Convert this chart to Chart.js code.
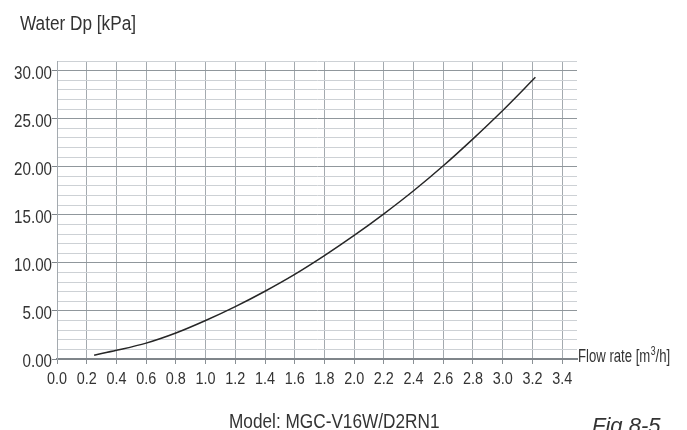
<!DOCTYPE html>
<html>
<head>
<meta charset="utf-8">
<script src="https://cdn.jsdelivr.net/npm/chart.js@4.4.1/dist/chart.umd.min.js"></script>
<style>
  html, body { margin: 0; padding: 0; background: #ffffff; }
  #wrap { position: relative; width: 687px; height: 430px; }
</style>
</head>
<body>
<div id="wrap"><canvas id="chart" width="687" height="430"></canvas></div>
<script>
// Pressure drop curve: flow rate [m3/h] against water-side pressure drop [kPa]
const flowRate     = [0.25, 0.4, 0.6, 0.8, 1.0, 1.2, 1.4, 1.6, 1.8, 2.0, 2.2, 2.4, 2.6, 2.8, 3.0, 3.22];
const pressureDrop = [0.4, 0.9, 1.65, 2.7, 4.0, 5.45, 7.05, 8.8, 10.75, 12.85, 15.1, 17.5, 20.1, 22.9, 25.85, 29.3];

const xTickValues = [0.0, 0.2, 0.4, 0.6, 0.8, 1.0, 1.2, 1.4, 1.6, 1.8, 2.0, 2.2, 2.4, 2.6, 2.8, 3.0, 3.2, 3.4];
const yLabelValues = [0, 5, 10, 15, 20, 25, 30];

const yTitle = 'Water Dp [kPa]';
const xTitleMain = 'Flow rate [m';
const xTitleSup = '3';
const xTitleTail = '/h]';
const modelText = 'Model: MGC-V16W/D2RN1';
const figText = 'Fig.8-5';

const SANS = "'Liberation Sans', Arial, sans-serif";
const TEXT = '#333333';

const points = flowRate.map((q, i) => ({ x: q, y: pressureDrop[i] }));

// Draws text horizontally condensed, anchored at (x, y) on the alphabetic baseline
function condensedText(ctx, str, x, y, size, squeeze, align) {
  ctx.save();
  ctx.font = size + 'px ' + SANS;
  const w = ctx.measureText(str).width * squeeze;
  let left = x;
  if (align === 'right') left = x - w;
  else if (align === 'center') left = x - w / 2;
  ctx.translate(left, y);
  ctx.scale(squeeze, 1);
  ctx.textAlign = 'left';
  ctx.textBaseline = 'alphabetic';
  ctx.fillText(str, 0, 0);
  ctx.restore();
}

// Tick labels placed through the chart's own scales, plus the free captions
const labels = {
  id: 'labels',
  afterDraw(chart) {
    const ctx = chart.ctx;
    const area = chart.chartArea;
    const xs = chart.scales.x;
    const ys = chart.scales.y;
    ctx.save();
    ctx.fillStyle = TEXT;

    xTickValues.forEach(v => {
      condensedText(ctx, v.toFixed(1), xs.getPixelForValue(v), area.bottom + 24.5, 16, 0.9, 'center');
    });
    yLabelValues.forEach(v => {
      condensedText(ctx, v.toFixed(2), 52, ys.getPixelForValue(v) + 8, 18.5, 0.82, 'right');
    });

    condensedText(ctx, yTitle, 20, 30, 20, 0.86, 'left');

    // axis caption at the end of the flow axis, with superscript 3
    ctx.save();
    ctx.translate(area.right + 1, area.bottom + 3);
    ctx.scale(0.73, 1);
    ctx.font = '18px ' + SANS;
    ctx.textAlign = 'left';
    ctx.textBaseline = 'alphabetic';
    let x = 0;
    ctx.fillText(xTitleMain, x, 0);
    x += ctx.measureText(xTitleMain).width + 0.5;
    ctx.font = '12px ' + SANS;
    ctx.fillText(xTitleSup, x, -7);
    x += ctx.measureText(xTitleSup).width;
    ctx.font = '18px ' + SANS;
    ctx.fillText(xTitleTail, x, 0);
    ctx.restore();

    condensedText(ctx, modelText, 229, 428, 21, 0.82, 'left');

    ctx.font = "italic 22px " + SANS;
    ctx.textAlign = 'left';
    ctx.textBaseline = 'alphabetic';
    ctx.fillText(figText, 592, 433);
    ctx.restore();
  }
};

new Chart(document.getElementById('chart'), {
  type: 'line',
  data: {
    datasets: [{
      data: points,
      borderColor: '#262626',
      borderWidth: 1.5,
      pointRadius: 0,
      fill: false,
      cubicInterpolationMode: 'monotone'
    }]
  },
  options: {
    responsive: false,
    animation: false,
    devicePixelRatio: 1,
    layout: { padding: { left: 0, right: 110, top: 61, bottom: 0 } },
    plugins: { legend: { display: false }, tooltip: { enabled: false } },
    scales: {
      x: {
        type: 'linear',
        min: 0,
        max: 3.5,
        afterBuildTicks(scale) {
          scale.ticks = xTickValues.map(v => ({ value: v }));
        },
        afterFit(scale) { scale.height = 71; },
        ticks: { display: false },
        grid: {
          color: '#a4aaaf',
          lineWidth: 1,
          drawTicks: true,
          tickLength: 5,
          tickColor: '#8a9095'
        },
        border: { display: true, color: '#7f858a', width: 2 }
      },
      y: {
        type: 'linear',
        min: 0,
        max: 31,
        afterFit(scale) { scale.width = 57; },
        ticks: { display: false, stepSize: 1 },
        grid: {
          color: c => (c.tick && c.tick.value % 5 === 0 ? '#90979c' : '#cdd1d5'),
          lineWidth: 1,
          drawTicks: true,
          tickLength: 5,
          tickColor: c => (c.tick && c.tick.value % 5 === 0 ? '#7f858a' : 'rgba(0,0,0,0)')
        },
        border: { display: true, color: '#a4aaaf', width: 1 }
      }
    }
  },
  plugins: [labels]
});
</script>
</body>
</html>
